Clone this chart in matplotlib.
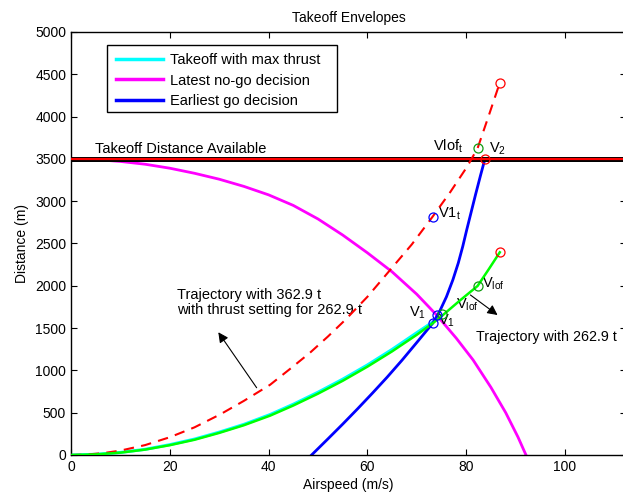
import matplotlib
matplotlib.use("Agg")
import matplotlib.pyplot as plt
from matplotlib.patches import Rectangle

plt.rcParams['font.family'] = ['Liberation Sans', 'DejaVu Sans']
plt.rcParams['mathtext.fontset'] = 'custom'
plt.rcParams['mathtext.rm'] = 'Liberation Sans'
plt.rcParams['mathtext.it'] = 'Liberation Sans:italic'

# ---- data ----
cyan_v = [0, 5, 10, 15, 20, 25, 30, 35, 40.3, 45, 50, 55, 60, 65, 70, 73.2]
cyan_d = [0, 8, 30, 67, 122, 188, 270, 362, 478, 600, 742, 896, 1064, 1248, 1446, 1570]

green_v = [0, 5, 10, 15, 20, 25, 30, 35, 40.3, 45, 50, 55, 60, 65, 70, 73.2, 75.0, 78.6, 82.3, 84.5, 86.8]
green_d = [0, 7, 28, 64, 116, 180, 261, 352, 465, 585, 725, 877, 1044, 1225, 1421, 1556, 1640, 1820, 1998, 2190, 2396]

magenta_v = [0, 5, 10, 15, 20, 25, 30, 35, 40, 45, 50, 55, 60, 65, 70, 74, 78, 81.4, 85, 88, 90.5, 92.1]
magenta_d = [3500, 3492, 3470, 3437, 3390, 3330, 3260, 3175, 3075, 2950, 2790, 2600, 2390, 2165, 1900,
             1655, 1380, 1123, 800, 500, 210, 0]

blue_v = [48.7, 52, 55, 58, 61, 64, 67, 70, 73.2, 74.6, 76.0, 77.3, 78.4, 79.3, 80.1,
          81.0, 81.9, 82.9, 83.8]
blue_d = [0, 190, 365, 545, 730, 920, 1120, 1330, 1556, 1695, 1870, 2070, 2270, 2465, 2660,
          2870, 3080, 3305, 3500]

red_v = [0, 3, 6.5, 10, 15, 20, 25, 30.2, 35, 40.3, 44.5, 48.4, 52, 55.5, 60, 64.6, 69, 73.2,
         76.8, 80.1, 82.3, 84.5, 86.8]
red_d = [0, 5, 22, 52, 117, 210, 327, 480, 640, 830, 1025, 1210, 1400, 1596, 1870, 2187, 2490, 2817,
         3110, 3400, 3625, 4000, 4400]

tda = 3500

red_mk_v = [86.8, 83.8, 86.8]
red_mk_d = [4400, 3500, 2396]
green_mk_v = [82.3, 82.3, 75.0]
green_mk_d = [3625, 1998, 1665]
blue_mk_v = [73.2, 74.0, 73.2]
blue_mk_d = [2817, 1655, 1556]

legend_labels = ['Takeoff with max thrust', 'Latest no-go decision', 'Earliest go decision']
x_ticks = [0, 20, 40, 60, 80, 100]
y_ticks = list(range(0, 5001, 500))

# ---- figure ----
W, H = 623, 492
fig = plt.figure(figsize=(W / 100, H / 100), dpi=100)
left, right, top, bottom = 71, 626, 32, 455
ax = fig.add_axes([left / W, (H - bottom) / H, (right - left) / W, (bottom - top) / H])

l1, = ax.plot(cyan_v, cyan_d, color=(0, 1, 1), lw=2.2)
l2, = ax.plot(magenta_v, magenta_d, color=(1, 0, 1), lw=2.0)
l3, = ax.plot(blue_v, blue_d, color=(0, 0, 1), lw=2.0)
ax.axhline(tda, color='black', lw=3.6, zorder=3)
ax.axhline(tda, color='red', lw=1.6, zorder=3.1)
ax.plot(red_v, red_d, color='red', lw=1.5, ls=(0, (5, 3.5)), zorder=4)
ax.plot(green_v, green_d, color=(0, 1, 0), lw=1.8, zorder=4)

ms = 6.5
ax.plot(red_mk_v, red_mk_d, 'o', mfc='none', mec='red', ms=ms, mew=0.9, ls='none', zorder=5)
ax.plot(green_mk_v, green_mk_d, 'o', mfc='none', mec='#109a10', ms=ms, mew=0.9, ls='none', zorder=5)
ax.plot(blue_mk_v, blue_mk_d, 'o', mfc='none', mec='blue', ms=ms, mew=0.9, ls='none', zorder=5)

fs = 10.5
ax.text(4.9, 3530, 'Takeoff Distance Available', fontsize=fs, ha='left', va='bottom')
ax.text(68.4, 1680, r'V$_\mathrm{1}$', fontsize=fs, ha='left', va='center')
ax.text(74.2, 1585, r'V$_\mathrm{1}$', fontsize=fs, ha='left', va='center')
ax.text(78.0, 1780, r'V$_\mathrm{lof}$', fontsize=fs, ha='left', va='center')
ax.text(83.2, 2020, r'V$_\mathrm{lof}$', fontsize=fs, ha='left', va='center')
ax.text(74.3, 2850, r'V1$_\mathrm{t}$', fontsize=fs, ha='left', va='center')
ax.text(73.2, 3652, r'Vlof$_\mathrm{t}$', fontsize=fs, ha='left', va='center')
ax.text(84.7, 3617, r'V$_\mathrm{2}$', fontsize=fs, ha='left', va='center')

ax.text(21.5, 1800, 'Trajectory with 362.9 t\nwith thrust setting for 262.9 t',
        fontsize=fs, ha='left', va='center', linespacing=1.1)
ax.annotate('', xy=(29.5, 1478), xytext=(37.9, 768),
            arrowprops=dict(arrowstyle='-|>', color='black', lw=0.8, mutation_scale=15))
ax.text(82.0, 1395, 'Trajectory with 262.9 t', fontsize=10.3, ha='left', va='center')
ax.annotate('', xy=(86.8, 1635), xytext=(80.4, 1911),
            arrowprops=dict(arrowstyle='-|>', color='black', lw=0.8, mutation_scale=15))

ax.set_xticks(x_ticks)
ax.set_yticks(y_ticks)
ax.set_xlim(0, (right - left) / 4.94)
ax.set_ylim(0, 5000)
ax.tick_params(direction='in', length=4, width=0.8, labelsize=10, top=True, right=True)
for s in ax.spines.values():
    s.set_linewidth(1.0)

ax.set_title('Takeoff Envelopes', fontsize=10, pad=7)
ax.set_xlabel('Airspeed (m/s)', fontsize=10, labelpad=3)
ax.set_ylabel('Distance (m)', fontsize=10, labelpad=4)

ax.add_patch(Rectangle((107 / W, 1 - 112 / H), (337 - 107) / W, (112 - 45) / H,
                       transform=fig.transFigure, fill=True, facecolor='white',
                       edgecolor='black', lw=1.0, zorder=9, clip_on=False))
leg = ax.legend([l1, l2, l3], legend_labels, loc='upper left',
                bbox_to_anchor=(112 / W, 1 - 49 / H), bbox_transform=fig.transFigure,
                fontsize=fs, frameon=False,
                handlelength=3.2, handletextpad=0.45, labelspacing=0.42,
                borderpad=0.3, borderaxespad=0)
for h in leg.legend_handles:
    h.set_linewidth(2.5)
leg.set_zorder(10)

fig.savefig('out.png', dpi=100)
